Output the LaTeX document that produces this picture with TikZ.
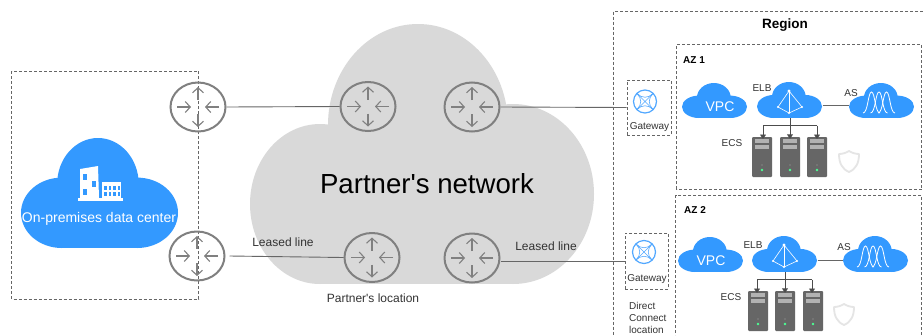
\documentclass[tikz,border=0pt]{standalone}
\usepackage{fontspec}
\setmainfont{Liberation Sans}
\newfontfamily\nomap{Liberation Sans}
\usetikzlibrary{arrows.meta,shapes.geometric}
\definecolor{cblue}{HTML}{3399FF}
\definecolor{cgray}{HTML}{D9D9D9}
\definecolor{rgray}{HTML}{808080}
\definecolor{tdark}{HTML}{333333}
\tikzset{
  boxdash/.style={draw=black!60,line width=.8pt,dash pattern=on 3pt off 2pt},
  routernode/.style={ellipse,draw=rgray,line width=2pt,minimum width=55pt,minimum height=49pt,inner sep=0pt},
  ghost/.style={inner sep=0pt,minimum width=#1,minimum height=36pt},
  link/.style={draw=black!60,line width=.9pt},
  tree/.style={draw=black!70,line width=.9pt},
  treearrow/.style={tree,-{Triangle[length=4.5pt,width=6pt]}},
  servernode/.style={fill=black!60,rounded corners=1pt,minimum width=20pt,minimum height=40pt,inner sep=0pt},
  lbl/.style={text=tdark,font=\nomap\fontsize{10}{12}\selectfont,inner sep=0pt},
  lbllarge/.style={text=tdark,font=\nomap\fontsize{12}{14}\selectfont,inner sep=0pt},
  whitetxt/.style={text=white,inner sep=0pt},
  gwbox/.style={boxdash,inner sep=0pt},
}
\newcommand{\flatcloud}[5]{%
  \begin{scope}[shift={(#1,#2)},x=#3pt,y=-#4pt]
    \fill[#5] (.26,.68) ellipse [x radius=.26,y radius=.32];
    \fill[#5] (.74,.68) ellipse [x radius=.26,y radius=.32];
    \fill[#5] (.49,.42) ellipse [x radius=.26,y radius=.42];
    \fill[#5] (.26,.5) rectangle (.74,1);
  \end{scope}}
\newcommand{\routerarrows}[1]{%
  \begin{scope}[shift={(#1)},rgray,line width=1.1pt,-{Straight Barb[length=5pt,width=11pt]}]
    \draw (0,-7) -- (0,-20);
    \draw (0,7) -- (0,20);
    \draw (-21,0) -- (-7,0);
    \draw (21,0) -- (7,0);
  \end{scope}}
\newcommand{\serverdetail}[1]{%
  \begin{scope}[shift={(#1)}]
    \fill[black!30] (-7,-18) rectangle (7,-14);
    \fill[black!30] (-7,-12) rectangle (7,-8);
    \fill[black!35] (0,8) circle (.7);
    \fill[green!60!cyan!70!white] (0,13) circle (1.4);
  \end{scope}}
\newcommand{\shieldicon}[1]{%
  \begin{scope}[shift={(#1)}]
    \draw[black!10,line width=1.8pt,line join=round]
      (0,-10) .. controls (3,-8) and (7,-7) .. (10,-7)
      .. controls (10,2) and (7,8) .. (0,11)
      .. controls (-7,8) and (-10,2) .. (-10,-7)
      .. controls (-7,-7) and (-3,-8) .. (0,-10) -- cycle;
  \end{scope}}
\newcommand{\elbicon}[1]{%
  \begin{scope}[shift={(#1)},draw=white,line width=.6pt]
    \draw (0,-9) -- (-11,7) -- (0,13) -- (13,7) -- cycle;
    \draw (0,-9) -- (0,13);
    \fill[white] (0,-9) circle (1.7);
    \fill[white] (-11,7) circle (1.2);
    \fill[white] (13,7) circle (1.2);
    \fill[white] (0,13) circle (1.2);
  \end{scope}}
\newcommand{\asicon}[1]{%
  \begin{scope}[shift={(#1)},white,line width=.8pt]
    \foreach \d in {0,7.5,15}{
      \draw ({\d-16},10) .. controls ({\d-11},10) and ({\d-11},-11) .. ({\d-7.5},-11)
        .. controls ({\d-4},-11) and ({\d-4},10) .. ({\d+1},10);
    }
  \end{scope}}
\newcommand{\gwicon}[1]{%
  \begin{scope}[shift={(#1)},cblue!85!white,line width=.6pt]
    \draw[line width=1.2pt] (0,0) circle (11.5);
    \draw (-8,-8) -- (8,8) (-8,8) -- (8,-8);
    \draw (-8,-8) .. controls (-3,-3) and (3,-3) .. (8,-8);
    \draw (8,-8) .. controls (3,-3) and (3,3) .. (8,8);
    \draw (8,8) .. controls (3,3) and (-3,3) .. (-8,8);
    \draw (-8,8) .. controls (-3,3) and (-3,-3) .. (-8,-8);
  \end{scope}}
\begin{document}
\begin{tikzpicture}[x=1pt,y=-1pt]
\useasboundingbox (0,0) rectangle (923,335);
\clip (0,0) rectangle (923,335);
\fill[white] (0,0) rectangle (923,335);

% partner cloud
\fill[cgray] (320,204) ellipse [x radius=70,y radius=80];
\fill[cgray] (513,194) ellipse [x radius=81,y radius=90];
\fill[cgray] (418,125) ellipse [x radius=90,y radius=101];
\fill[cgray] (320,150) rectangle (513,284);
\node[inner sep=0pt,text=black,font=\nomap\fontsize{27.6}{32}\selectfont] (net) at (427,184) {Partner's network};

% region and zones
\draw[boxdash] (923,11) -- (613.5,11) -- (613.5,335);
\draw[boxdash] (921.5,189) -- (676.5,189) -- (676.5,44.5) -- (921.5,44.5) -- cycle;
\draw[boxdash] (921.5,335) -- (921.5,195.5) -- (675.5,195.5) -- (675.5,335);
\node[inner sep=0pt,font=\bfseries\fontsize{13.5}{16}\selectfont] (region) at (785,25) {Region};
\node[inner sep=0pt,font=\bfseries\fontsize{10}{12}\selectfont] (az1) at (694,60) {AZ 1};
\node[inner sep=0pt,font=\bfseries\fontsize{10}{12}\selectfont] (az2) at (695,210) {AZ 2};

% on-premises box and cloud
\draw[boxdash] (11.5,71) rectangle (198.5,299);
\flatcloud{21}{138}{157}{110}{cblue}
\fill[white] (80,169) -- (98,166) -- (99,198) -- (80,198) -- cycle;
\fill[cblue] (83,174) rectangle (87,180);
\fill[cblue] (92,181) rectangle (96,187);
\fill[cblue] (83,189) rectangle (87,195);
\fill[white] (102,182) rectangle (121,198);
\foreach \a in {104,108.5,113,117.5}{
  \fill[cblue] (\a,186) rectangle ({\a+2.5},190);
  \fill[cblue] (\a,192) rectangle ({\a+2.5},196);
}
\fill[white] (78,198) rectangle (123,201);
\node[whitetxt,font=\fontsize{14}{16}\selectfont] (dc) at (99,219) {On-premises data center};

% routers
\node[routernode] (r1) at (198,107) {};
\node[routernode] (r2) at (197,256) {};
\node[routernode] (p1) at (368,106.5) {};
\node[routernode] (p2) at (472,107) {};
\node[routernode] (p3) at (372,257.5) {};
\node[routernode] (p4) at (472,258) {};
\routerarrows{198,107}
\routerarrows{197,256}
\routerarrows{368,106.5}
\routerarrows{472,107}
\routerarrows{372,257.5}
\routerarrows{472,258}

% gateways
\node[gwbox,draw,minimum width=44pt,minimum height=55pt] (g1) at (649,107.5) {};
\node[gwbox,draw,minimum width=43pt,minimum height=56pt] (g2) at (646.5,261) {};
\gwicon{645,101.5}
\gwicon{644,252}
\node[lbl] (g1t) at (649.5,127) {Gateway};
\node[lbl] (g2t) at (647,279) {Gateway};

% links
\draw[link] (r1.east) -- (p1.west);
\draw[link] ([xshift=4pt]r2.east) -- (p3.west);
\draw[link] (p2.east) -- (g1.west);
\draw[link] ([yshift=-3pt]p4.east) -- (g2.west);

\node[lbllarge] (l1) at (283,242) {Leased line};
\node[lbllarge] (l2) at (546,246) {Leased line};
\node[lbllarge] (loc) at (373,298) {Partner's location};
\node[lbl,align=left,anchor=north west] (dcl) at (629,302) {Direct\\Connect\\location};

% AZ 1
\flatcloud{682}{83}{65}{35}{cblue}
\flatcloud{757}{82}{65}{36}{cblue}
\flatcloud{849}{83}{65}{35}{cblue}
\node[whitetxt,font=\fontsize{14}{16}\selectfont] (vpc1) at (720,107) {VPC};
\node[ghost=65pt] (elb1) at (790,100) {};
\node[ghost=65pt] (as1) at (881.5,100.5) {};
\elbicon{789,100}
\asicon{879,103}
\draw[link] ([yshift=-5.5pt]elb1.east) -- ([yshift=-5pt]as1.west);
\node[lbl] (elbt1) at (762,88) {ELB};
\node[lbl] (ast1) at (851,93) {AS};
\node[lbl] (ecst1) at (732,143) {ECS};
\node[servernode] (s11) at (762,157) {};
\node[servernode] (s12) at (790,157) {};
\node[servernode] (s13) at (817,157) {};
\serverdetail{762,157}
\serverdetail{790,157}
\serverdetail{817,157}
\coordinate (t1) at (790,125.5);
\draw[tree] (elb1.south) -- (t1);
\draw[tree] (763,125.5) -- (817,125.5);
\draw[treearrow] (t1) -- ([yshift=-2pt]s12.north);
\draw[treearrow] (763,125.5) -- (763,139);
\draw[treearrow] (817,125.5) -- (817,139);
\shieldicon{849,161}

% AZ 2
\flatcloud{678}{237}{65}{35}{cblue}
\flatcloud{752}{236}{65}{36}{cblue}
\flatcloud{843}{236}{65}{36}{cblue}
\node[whitetxt,font=\fontsize{14}{16}\selectfont] (vpc2) at (711,261) {VPC};
\node[ghost=65pt] (elb2) at (785,254) {};
\node[ghost=65pt] (as2) at (875.5,254) {};
\elbicon{784,254}
\asicon{873,257}
\draw[link] ([yshift=-6pt]elb2.east) -- ([yshift=-6pt]as2.west);
\node[lbl] (elbt2) at (753,245) {ELB};
\node[lbl] (ast2) at (844,247) {AS};
\node[lbl] (ecst2) at (731,297) {ECS};
\node[servernode] (s21) at (758,311) {};
\node[servernode] (s22) at (785,311) {};
\node[servernode] (s23) at (813,311) {};
\serverdetail{758,311}
\serverdetail{785,311}
\serverdetail{813,311}
\coordinate (t2) at (785,279.5);
\draw[tree] (elb2.south) -- (t2);
\draw[tree] (757,279.5) -- (812,279.5);
\draw[treearrow] (t2) -- ([yshift=-2pt]s22.north);
\draw[treearrow] (757,279.5) -- (757,293);
\draw[treearrow] (812,279.5) -- (812,293);
\shieldicon{844,314}
\end{tikzpicture}
\end{document}
